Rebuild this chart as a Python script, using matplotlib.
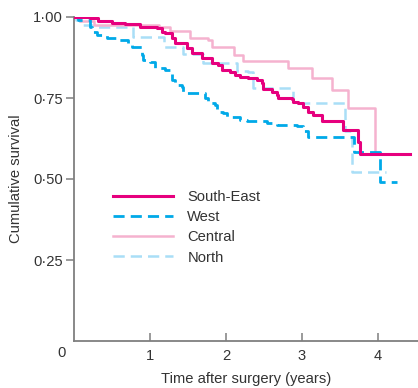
import matplotlib
matplotlib.use("Agg")
import matplotlib.pyplot as plt

plt.rcParams['font.family'] = ['Liberation Sans', 'DejaVu Sans']

# Kaplan-Meier step data: drop times (years) and survival after each drop;
# the last entry of each series is the final follow-up time.
se_time = [0, 0.21, 0.32, 0.50, 0.67, 0.87, 1.09, 1.16, 1.20, 1.29, 1.33, 1.49,
           1.55, 1.68, 1.82, 1.89, 1.95, 2.05, 2.12, 2.18, 2.29, 2.41, 2.47,
           2.49, 2.61, 2.67, 2.68, 2.87, 2.88, 2.95, 3.01, 3.08, 3.14, 3.26,
           3.54, 3.74, 3.76, 4.42]
se_surv = [1.000, 0.996, 0.989, 0.982, 0.977, 0.970, 0.965, 0.955, 0.951, 0.935,
           0.920, 0.904, 0.889, 0.873, 0.858, 0.852, 0.836, 0.830, 0.821, 0.815,
           0.812, 0.806, 0.796, 0.778, 0.769, 0.759, 0.750, 0.747, 0.738, 0.735,
           0.722, 0.707, 0.698, 0.679, 0.651, 0.614, 0.577, 0.577]

west_time = [0, 0.05, 0.21, 0.24, 0.30, 0.43, 0.58, 0.71, 0.76, 0.89, 0.91, 1.00,
             1.07, 1.20, 1.26, 1.29, 1.33, 1.42, 1.43, 1.72, 1.76, 1.86, 1.88,
             1.96, 2.01, 2.18, 2.28, 2.54, 2.67, 2.93, 3.01, 3.08, 3.68, 4.02,
             4.25]
west_surv = [1.000, 0.991, 0.969, 0.954, 0.944, 0.935, 0.929, 0.920, 0.907, 0.883,
             0.867, 0.861, 0.843, 0.836, 0.827, 0.806, 0.790, 0.784, 0.765, 0.750,
             0.735, 0.728, 0.707, 0.704, 0.691, 0.682, 0.679, 0.673, 0.667, 0.664,
             0.648, 0.630, 0.583, 0.491, 0.491]

central_time = [0, 0.08, 0.26, 1.12, 1.26, 1.53, 1.76, 1.82, 2.10, 2.22, 2.82,
                3.13, 3.39, 3.61, 3.96, 4.02]
central_surv = [1.000, 0.988, 0.975, 0.969, 0.957, 0.935, 0.929, 0.907, 0.883,
                0.864, 0.843, 0.812, 0.775, 0.719, 0.580, 0.580]

north_time = [0, 0.03, 0.08, 0.24, 0.78, 1.18, 1.43, 1.70, 2.14, 2.29, 2.36,
              2.88, 3.56, 3.66, 4.10]
north_surv = [1.000, 0.991, 0.975, 0.969, 0.938, 0.907, 0.886, 0.858, 0.833,
              0.830, 0.780, 0.735, 0.647, 0.522, 0.522]

y_ticks = [0.25, 0.50, 0.75, 1.00]
y_labels = ['0·25', '0·50', '0·75', '1·00']
x_ticks = [1, 2, 3, 4]
x_labels = ['1', '2', '3', '4']

text_color = '#333333'
axis_color = '#7f7f7f'
fs = 10.6

fig = plt.figure(figsize=(4.18, 3.88), dpi=100)
ax = fig.add_axes([74 / 418, 47 / 388, 344 / 418, 324 / 388])

ax.step(se_time, se_surv, where='post', color='#e6007e', lw=2.2,
        label='South-East', zorder=5)
ax.step(west_time, west_surv, where='post', color='#00a9e8', lw=2.0,
        dashes=(4, 2.2), label='West', zorder=4)
ax.step(central_time, central_surv, where='post', color='#f5b2cf', lw=1.8,
        label='Central', zorder=3)
ax.step(north_time, north_surv, where='post', color='#a9def7', lw=1.8,
        dashes=(4.5, 2.4), label='North', zorder=2)

ax.set_xlim(0, 344 / 76)
ax.set_ylim(0, 1.0)

for side in ('top', 'right'):
    ax.spines[side].set_visible(False)
for side in ('left', 'bottom'):
    ax.spines[side].set_color(axis_color)
    ax.spines[side].set_linewidth(1.3)

ax.set_yticks(y_ticks)
ax.set_yticklabels(y_labels)
ax.set_xticks(x_ticks)
ax.set_xticklabels(x_labels)
ax.tick_params(axis='y', direction='out', length=6, width=1.1, color=axis_color,
               labelsize=fs, labelcolor=text_color, pad=2)
ax.tick_params(axis='x', direction='in', length=6, width=1.1, color=axis_color,
               labelsize=fs, labelcolor=text_color, pad=6)

ax.text(-12 / 76, -12 / 324, '0', ha='center', va='center', fontsize=fs,
        color=text_color, transform=ax.transData, clip_on=False)

ax.set_xlabel('Time after surgery (years)', fontsize=fs, color=text_color)
ax.xaxis.set_label_coords(0.5, -31 / 324)
ax.set_ylabel('Cumulative survival', fontsize=fs, color=text_color)
ax.yaxis.set_label_coords(-51 / 344, 0.5)

leg = ax.legend(loc='upper left', bbox_to_anchor=((113 - 74) / 344, (341 - 190) / 324),
                frameon=False, fontsize=fs, handlelength=4.1, handletextpad=0.95,
                labelspacing=0.42, borderpad=0, borderaxespad=0)
for t in leg.get_texts():
    t.set_color(text_color)

fig.savefig('out.png', dpi=100)
